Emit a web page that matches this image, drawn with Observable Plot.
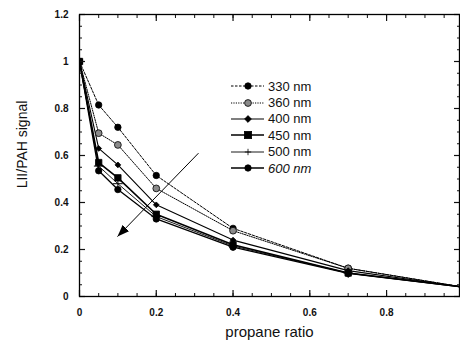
<!DOCTYPE html>
<html>
<head>
<meta charset="utf-8">
<script src="https://cdn.jsdelivr.net/npm/d3@7"></script>
<script src="https://cdn.jsdelivr.net/npm/@observablehq/plot@0.6"></script>
<style>
  html, body { margin: 0; padding: 0; background: #fff; }
  #wrap { position: relative; width: 460px; height: 346px; font-family: "Liberation Sans", Arial, sans-serif; }
  #legend { position: absolute; left: 231px; top: 78px; font-size: 13px; color: #111; }
  #legend .row { display: flex; align-items: center; height: 16.4px; }
  #legend svg { display: block; margin-right: 3px; }
</style>
</head>
<body>
<div id="wrap"></div>
<script>
// ---- data ----
const propane = [0, 0.05, 0.1, 0.2, 0.4, 0.7, 1.0];
const s330 = [1, 0.815, 0.72, 0.515, 0.29, 0.12, 0.04];
const s360 = [1, 0.695, 0.645, 0.46, 0.28, 0.12, 0.04];
const s400 = [1, 0.63, 0.56, 0.39, 0.24, 0.11, 0.04];
const s450 = [1, 0.57, 0.505, 0.35, 0.22, 0.10, 0.04];
const s500 = [1, 0.555, 0.48, 0.34, 0.215, 0.10, 0.04];
const s600 = [1, 0.535, 0.455, 0.33, 0.21, 0.098, 0.04];
const seriesNames = ["330 nm", "360 nm", "400 nm", "450 nm", "500 nm", "600 nm"];
const seriesValues = [s330, s360, s400, s450, s500, s600];
const xMajor = [0, 0.2, 0.4, 0.6, 0.8];
const yMajor = [0, 0.2, 0.4, 0.6, 0.8, 1, 1.2];
const xMinor = d3.range(0, 20).map(i => i * 0.05);
const yMinor = d3.range(0, 25).map(i => i * 0.05);
const arrowFrom = [0.31, 0.61];
const arrowTo = [0.099, 0.255];

// ---- styles per series ----
const styles = [
  {symbol: "circle", r: 3.2, fill: "black", dash: "2.5,1.5", sw: 1},
  {symbol: "circle", r: 3.4, fill: "#8a8a8a", dash: "1.2,1.2", sw: 1},
  {symbol: "diamond2", r: 2.6, fill: "black", dash: null, sw: 1.1},
  {symbol: "square", r: 3.6, fill: "black", dash: null, sw: 1.6},
  {symbol: "plus", r: 3.2, fill: "none", dash: null, sw: 0.9},
  {symbol: "circle", r: 3.2, fill: "black", dash: null, sw: 1.3}
];

const rows = seriesNames.flatMap((name, si) =>
  propane.map((p, i) => ({series: name, x: p, y: seriesValues[si][i]})));

const marks = [];
seriesNames.forEach((name, si) => {
  const st = styles[si];
  const data = rows.filter(d => d.series === name);
  marks.push(Plot.line(data, {x: "x", y: "y", stroke: "black", strokeWidth: st.sw,
    strokeDasharray: st.dash || undefined, clip: true}));
});
seriesNames.forEach((name, si) => {
  const st = styles[si];
  const data = rows.filter(d => d.series === name);
  marks.push(Plot.dot(data, {x: "x", y: "y", symbol: () => st.symbol, r: st.r,
    fill: st.fill, stroke: "black", strokeWidth: st.symbol === "plus" ? 1 : 0.8, clip: true}));
});

marks.push(Plot.link([{x1: arrowFrom[0], y1: arrowFrom[1], x2: arrowTo[0], y2: arrowTo[1]}],
  {x1: "x1", y1: "y1", x2: "x2", y2: "y2", stroke: "black", strokeWidth: 1, ariaDescription: "trend-arrow"}));

const fmt = d => String(d);
// axes: labels
marks.push(Plot.axisX({ticks: xMajor, tickSize: 0, tickPadding: 12, tickFormat: fmt,
  fontSize: 10, fontWeight: "bold", label: null}));
marks.push(Plot.axisY({ticks: yMajor, tickSize: 0, tickPadding: 11, tickFormat: fmt,
  fontSize: 10, fontWeight: "bold", label: null}));
// axes: inward ticks on all four sides
for (const anchor of ["bottom", "top"]) {
  marks.push(Plot.axisX({anchor, ticks: xMajor, tickSize: -6, tickFormat: () => "", label: null, strokeWidth: 1.2}));
  marks.push(Plot.axisX({anchor, ticks: xMinor, tickSize: -3, tickFormat: () => "", label: null}));
}
for (const anchor of ["left", "right"]) {
  marks.push(Plot.axisY({anchor, ticks: yMajor, tickSize: -6, tickFormat: () => "", label: null, strokeWidth: 1.2}));
  marks.push(Plot.axisY({anchor, ticks: yMinor, tickSize: -3, tickFormat: () => "", label: null}));
}
marks.push(Plot.frame({stroke: "black", strokeWidth: 1.3}));
marks.push(Plot.text(["propane ratio"], {frameAnchor: "bottom", dy: 40, fontSize: 15, fill: "#111"}));
marks.push(Plot.text(["LII/PAH signal"], {frameAnchor: "left", textAnchor: "middle", dx: -57, dy: -11, rotate: -90, fontSize: 14, fill: "#111"}));

const chart = Plot.plot({
  width: 460,
  height: 346,
  marginLeft: 79,
  marginRight: 1,
  marginTop: 14,
  marginBottom: 50,
  style: {fontFamily: "Liberation Sans, Arial, sans-serif", color: "#111", background: "white"},
  x: {domain: [0, 0.99]},
  y: {domain: [0, 1.2]},
  marks
});

// filled arrowhead
const ns = "http://www.w3.org/2000/svg";
const defs = document.createElementNS(ns, "defs");
defs.innerHTML = '<marker id="ahead" viewBox="0 0 12 10" refX="12" refY="5" markerWidth="12" markerHeight="10" markerUnits="userSpaceOnUse" orient="auto"><path d="M0,0.5 L12,5 L0,9.5 z" fill="black" stroke="none"/></marker>';
chart.insertBefore(defs, chart.firstChild);
chart.querySelectorAll('g[aria-description="trend-arrow"] path').forEach(p => p.setAttribute("marker-end", "url(#ahead)"));

const wrap = document.getElementById("wrap");
wrap.appendChild(chart);

// legend overlay
const legend = document.createElement("div");
legend.id = "legend";
const symPath = {
  circle: r => `<circle cx="17" cy="6" r="${r}"/>`,
  square: r => `<rect x="${17 - r}" y="${6 - r}" width="${2 * r}" height="${2 * r}"/>`,
  diamond2: r => `<path d="M17,${6 - r * 1.3} L${17 + r * 1.3},6 L17,${6 + r * 1.3} L${17 - r * 1.3},6 Z"/>`,
  plus: r => `<path d="M${17 - r},6 H${17 + r} M17,${6 - r} V${6 + r}" fill="none"/>`
};
seriesNames.forEach((name, si) => {
  const st = styles[si];
  const row = document.createElement("div");
  row.className = "row";
  const dash = st.dash ? `stroke-dasharray="${st.dash}"` : "";
  row.innerHTML = `<svg width="34" height="12"><line x1="0" y1="6" x2="33" y2="6" stroke="black" stroke-width="${st.sw}" ${dash}/>` +
    `<g fill="${st.fill}" stroke="black" stroke-width="0.8">${symPath[st.symbol](st.r)}</g></svg>` +
    `<span style="${si === 5 ? "font-style:italic;" : ""}">${name}</span>`;
  legend.appendChild(row);
});
wrap.appendChild(legend);
</script>
</body>
</html>
